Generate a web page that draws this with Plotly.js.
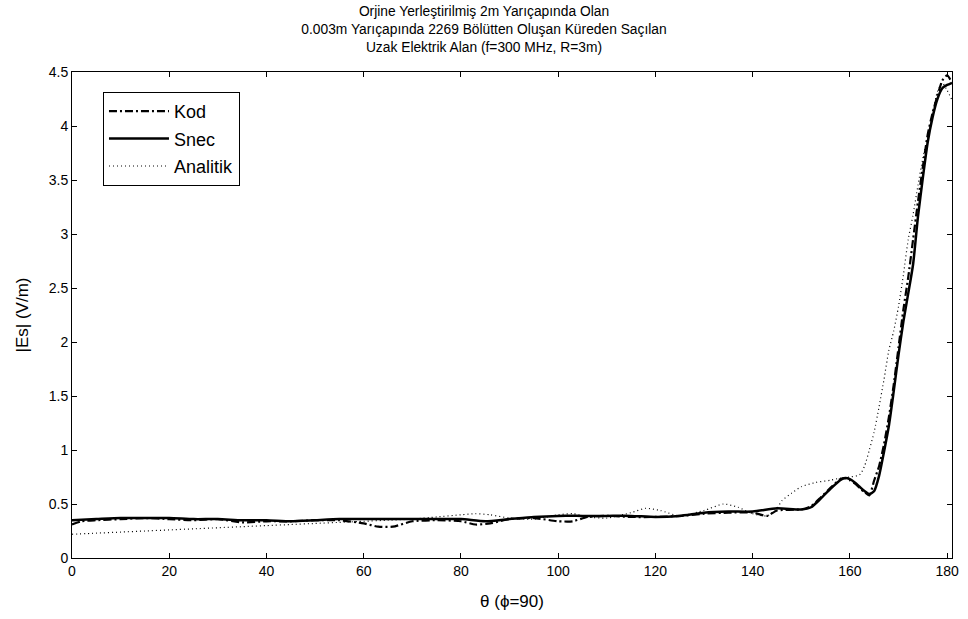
<!DOCTYPE html>
<html>
<head>
<meta charset="utf-8">
<script src="https://cdn.plot.ly/plotly-3.0.1.min.js"></script>
<style>html,body{margin:0;padding:0;background:#fff;}#chart{width:968px;height:619px;}</style>
</head>
<body>
<div id="chart"></div>
<script>
// θ values (degrees) and |Es| (V/m) for each series
const kodTheta = [0,2,5,10,15,20,25,30,35,40,45,50,55,60,63,66,70,75,80,83,86,90,95,100,103,106,110,115,120,125,130,135,140,143,145,150,152,154,156,158,159,160,161,162,163,164,165,166,167,168,169,170,171,172,173,174,175,176,177,178,179,180,181];
const kodValues = [0.31,0.34,0.35,0.36,0.37,0.36,0.35,0.36,0.33,0.34,0.34,0.35,0.35,0.32,0.29,0.29,0.34,0.35,0.34,0.31,0.32,0.36,0.37,0.34,0.34,0.38,0.39,0.38,0.38,0.39,0.41,0.42,0.42,0.39,0.44,0.45,0.48,0.56,0.65,0.73,0.74,0.72,0.69,0.65,0.61,0.58,0.72,0.85,1.05,1.30,1.60,1.95,2.30,2.60,2.95,3.30,3.62,3.92,4.12,4.28,4.42,4.47,4.40];

const snecTheta = [0,5,10,15,20,25,30,35,40,45,50,55,60,65,70,75,80,85,90,95,100,105,110,115,120,125,130,135,140,145,150,152,154,156,158,159,160,161,162,163,164,165,166,167,168,169,170,171,172,173,174,175,176,177,178,179,180,181];
const snecValues = [0.35,0.36,0.37,0.37,0.37,0.36,0.36,0.35,0.35,0.34,0.35,0.36,0.36,0.36,0.36,0.36,0.36,0.34,0.36,0.38,0.39,0.39,0.39,0.39,0.38,0.39,0.42,0.43,0.43,0.46,0.45,0.47,0.55,0.64,0.72,0.74,0.73,0.70,0.66,0.62,0.59,0.62,0.76,0.98,1.22,1.54,1.88,2.19,2.45,2.72,3.16,3.52,3.85,4.08,4.25,4.35,4.38,4.40];

const anaTheta = [0,5,10,15,20,25,30,35,40,45,50,55,60,65,70,75,80,83,86,90,95,100,103,106,110,115,118,121,125,130,134,137,140,143,145,146,148,150,153,156,158,160,162,163,164,165,166,167,168,169,170,171,172,173,174,175,176,177,178,179,180,181];
const anaValues = [0.22,0.23,0.24,0.25,0.26,0.27,0.28,0.29,0.30,0.31,0.32,0.33,0.34,0.35,0.36,0.38,0.40,0.41,0.40,0.37,0.36,0.40,0.41,0.38,0.37,0.42,0.46,0.44,0.39,0.44,0.50,0.47,0.41,0.39,0.46,0.53,0.60,0.66,0.70,0.72,0.74,0.75,0.77,0.85,1.00,1.17,1.40,1.65,1.92,2.10,2.33,2.62,2.95,3.18,3.45,3.70,3.90,4.10,4.32,4.40,4.33,4.24];

const seriesNames = ["Kod", "Snec", "Analitik"];
const xTicks = [0,20,40,60,80,100,120,140,160,180];
const yTicks = [0,0.5,1,1.5,2,2.5,3,3.5,4,4.5];
const yTickText = ["0","0.5","1","1.5","2","2.5","3","3.5","4","4.5"];

const FONT = "Liberation Sans, Arial, Helvetica, sans-serif";

const traces = [
  {x: kodTheta, y: kodValues, name: seriesNames[0], legendgroup: "a", mode: "lines",
   line: {color: "#000", width: 2.2, dash: "8px,3px,2px,3px", shape: "spline", smoothing: 0.6}},
  {x: snecTheta, y: snecValues, name: seriesNames[1], legendgroup: "b", mode: "lines",
   line: {color: "#000", width: 2.5, shape: "spline", smoothing: 0.6}},
  {x: anaTheta, y: anaValues, name: seriesNames[2], legendgroup: "c", mode: "lines",
   line: {color: "#000", width: 1.2, dash: "1px,3px", shape: "spline", smoothing: 0.6}}
];

const axisCommon = {
  showline: true, linecolor: "#000", linewidth: 1, mirror: "ticks",
  ticks: "inside", ticklen: 5, tickcolor: "#000", tickwidth: 1,
  showgrid: false, zeroline: false,
  tickfont: {family: FONT, size: 14, color: "#000"}
};

const layout = {
  width: 968, height: 619,
  paper_bgcolor: "#fff", plot_bgcolor: "#fff",
  margin: {l: 72, r: 16, t: 72, b: 61, pad: 0},
  font: {family: FONT, color: "#000"},
  title: {
    text: "Orjine Yerleştirilmiş 2m Yarıçapında Olan<br>0.003m Yarıçapında 2269 Bölütten Oluşan Küreden Saçılan<br>Uzak Elektrik Alan (f=300 MHz, R=3m)",
    font: {family: FONT, size: 13.8, color: "#000"},
    x: 0.5, xref: "container", xanchor: "center",
    y: 1, yref: "paper", yanchor: "bottom", pad: {b: 56}
  },
  xaxis: Object.assign({}, axisCommon, {
    range: [0, 181], tickvals: xTicks, ticktext: xTicks.map(String),
    title: {text: "θ (ϕ=90)", font: {family: FONT, size: 17, color: "#000"}, standoff: 17},
    automargin: false
  }),
  yaxis: Object.assign({}, axisCommon, {
    range: [0, 4.5], tickvals: yTicks, ticktext: yTickText,
    title: {text: "|Es| (V/m)", font: {family: FONT, size: 17, color: "#000"}, standoff: 15},
    automargin: false
  }),
  showlegend: true,
  legend: {
    x: 0.0352, y: 0.9588, xanchor: "left", yanchor: "top",
    bgcolor: "#fff", bordercolor: "#000", borderwidth: 1,
    font: {family: FONT, size: 18, color: "#000"},
    itemwidth: 60, tracegroupgap: 1
  }
};

Plotly.newPlot("chart", traces, layout, {displayModeBar: false, staticPlot: true});
</script>
</body>
</html>
